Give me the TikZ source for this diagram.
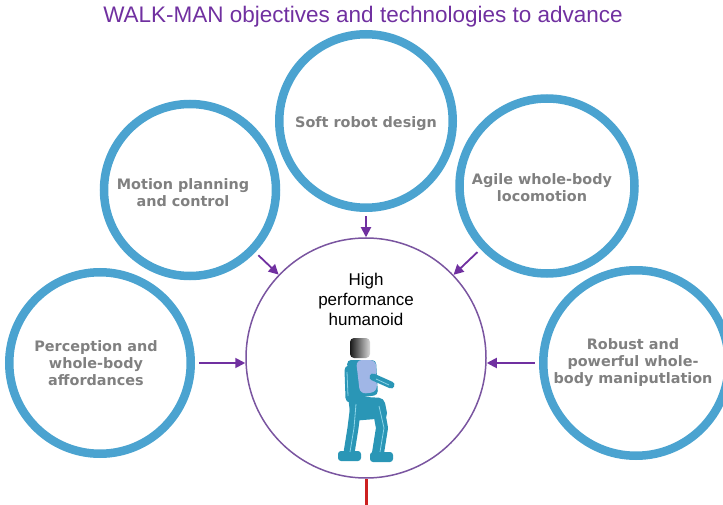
\documentclass[tikz,border=0pt]{standalone}
\usepackage{fontspec}
\setmainfont{Liberation Sans}
\newfontfamily\topicfont{DejaVu Sans}
\usepackage{tikz}
\usetikzlibrary{positioning, shapes, arrows, arrows.meta, calc}
\definecolor{ringblue}{RGB}{75,163,208}
\definecolor{walkpurple}{RGB}{112,48,160}
\definecolor{hubpurple}{RGB}{122,85,160}
\definecolor{topicgray}{RGB}{128,128,128}
\definecolor{robotteal}{RGB}{42,150,182}
\definecolor{robotlight}{RGB}{140,212,232}
\definecolor{torsoblue}{RGB}{160,182,230}
\definecolor{stemred}{RGB}{204,32,32}

\begin{document}
\begin{tikzpicture}[x=1pt, y=-1pt]
		\tikzstyle{topic}=[draw=ringblue, line width=8.5pt, circle, inner sep=0pt]
		\tikzstyle{topictext}=[text=topicgray, font=\topicfont\bfseries\fontsize{14.4}{17}\selectfont, align=center]
		\tikzstyle{flow}=[draw=walkpurple, line width=1.8pt, -{Triangle[length=10pt, width=10pt]}]
		
		\useasboundingbox (0,0) rectangle (723,505);
		
		\node[text=walkpurple, font=\fontsize{22.5}{27}\selectfont] (title) at (363,17) {WALK-MAN objectives and technologies to advance};
		
		%% the humanoid in the middle
		\node[draw=hubpurple, line width=1.5pt, circle, minimum size=240pt, inner sep=0pt] (hub) at (366,358) {};
		\node[align=center, font=\fontsize{17}{20}\selectfont] (hubtext) at (366,299) {High\\performance\\humanoid};
		
		%% the five rings around it
		\node[topic, minimum size=173.5pt] (soft) at (366,121) {};
		\node[topic, minimum size=172pt] (motion) at (190,190) {};
		\node[topic, minimum size=175pt] (agile) at (547,186) {};
		\node[topic, minimum size=181.5pt] (perc) at (100,363) {};
		\node[topic, minimum size=185.5pt] (robust) at (636,363) {};
		
		\node[topictext] at (366,124) {Soft robot design};
		\node[topictext] at (183,193) {Motion planning\\and control};
		\node[topictext] at (542,188) {Agile whole-body\\locomotion};
		\node[topictext] at (96,363) {Perception and\\whole-body\\affordances};
		\node[topictext] at (633,363) {Robust and\\powerful whole-\\body maniputlation};
		
		%% arrows into the hub
		\draw[flow, shorten <=4.25pt] (soft) -- (hub);
		\draw[flow, shorten <=4.25pt] (motion) -- (hub);
		\draw[flow, shorten <=4.25pt] (agile) -- (hub);
		\draw[flow, shorten <=4.25pt] (perc.east) -- (perc.east -| hub.west);
		\draw[flow, shorten <=4.25pt] (robust.west) -- (robust.west -| hub.east);
		
		\coordinate (stemend) at (366,505);
		\draw[stemred, line width=3pt] (hub.south) -- (stemend);
		
		%% walking robot
		\draw[robotteal, line width=9pt, line cap=round] (349,370) -- (350,398);
		\fill[robotteal, rounded corners=4pt] (347,360) -- (376,360) -- (378,395) -- (349,399) -- cycle;
		\fill[torsoblue, rounded corners=6pt] (356,360) -- (376,360) -- (377,392) -- (360,394) -- cycle;
		\shade[left color=black!90, right color=gray!30, rounded corners=4pt] (350,338) rectangle (370,358);
		\draw[robotteal, line width=7pt, line cap=round] (373,377) -- (391,385);
		\fill[robotteal, rounded corners=5pt] (348,396) -- (384,398) -- (388,418) -- (351,421) -- cycle;
		\draw[robotteal, line width=11pt, line cap=round, line join=round] (356,404) -- (353,428) -- (349,453);
		\draw[robotteal, line width=12pt, line cap=round, line join=round] (378,406) -- (382,428) -- (378,453);
		\fill[robotteal, rounded corners=3pt] (338,451) rectangle (361,461);
		\fill[robotteal, rounded corners=3pt] (370,452) rectangle (393,462);
		\draw[robotlight, line width=0.8pt] (347,372) -- (348,396) (356,404) -- (354,428) -- (350,452) (379,406) -- (384,428) -- (380,452) (376,379) -- (389,385);
		
\end{tikzpicture}
\end{document}
